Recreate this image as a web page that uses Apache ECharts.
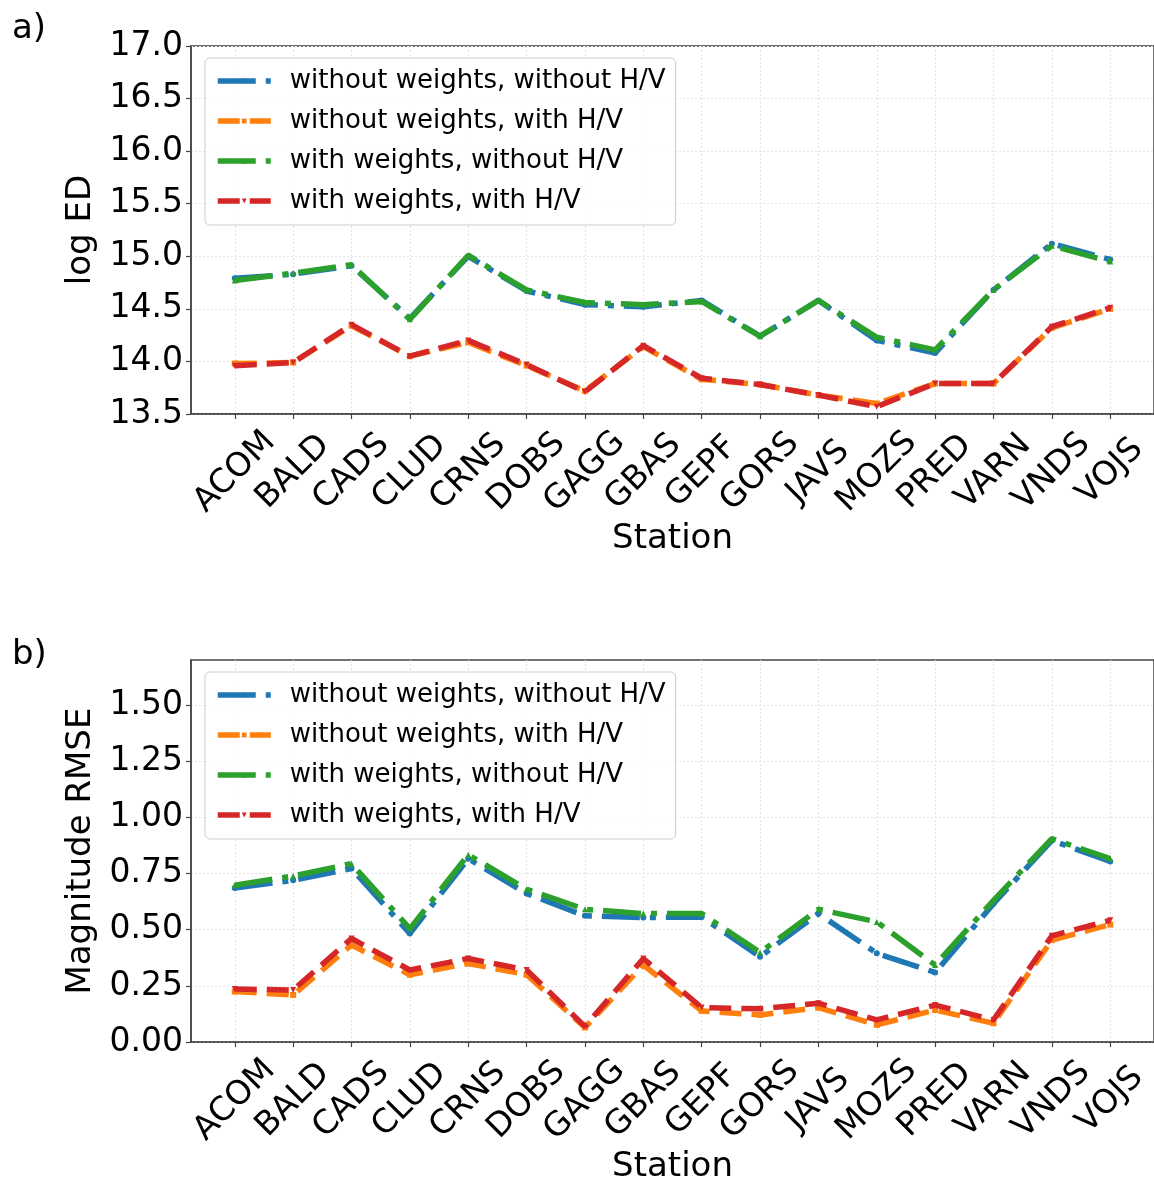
<!DOCTYPE html>
<html><head><meta charset="utf-8">
<script src="https://cdn.jsdelivr.net/npm/echarts@6/dist/echarts.min.js"></script>
<style>html,body{margin:0;padding:0;background:#fff}#c{width:1154px;height:1185px}</style>
</head><body><div id="c"></div>
<script>
const stations = ['ACOM','BALD','CADS','CLUD','CRNS','DOBS','GAGG','GBAS','GEPF','GORS','JAVS','MOZS','PRED','VARN','VNDS','VOJS'];
const seriesNames = ['without weights, without H/V','without weights, with H/V','with weights, without H/V','with weights, with H/V'];

// a) log ED
const edNoWNoHV = [14.79,14.83,14.91,14.41,15.00,14.67,14.54,14.52,14.58,14.24,14.58,14.20,14.08,14.68,15.12,14.97];
const edNoWHV   = [13.98,13.99,14.34,14.05,14.18,13.96,13.72,14.14,13.83,13.78,13.68,13.60,13.79,13.79,14.32,14.50];
const edWNoHV   = [14.77,14.84,14.92,14.40,15.01,14.68,14.56,14.54,14.57,14.24,14.58,14.23,14.11,14.68,15.10,14.95];
const edWHV     = [13.96,13.99,14.35,14.05,14.20,13.97,13.71,14.15,13.84,13.78,13.68,13.57,13.79,13.79,14.33,14.51];

// b) Magnitude RMSE
const rmseNoWNoHV = [0.686,0.720,0.772,0.483,0.816,0.661,0.562,0.554,0.557,0.380,0.572,0.395,0.310,0.616,0.897,0.804];
const rmseNoWHV   = [0.225,0.210,0.432,0.300,0.350,0.300,0.065,0.343,0.139,0.121,0.154,0.077,0.143,0.084,0.454,0.523];
const rmseWNoHV   = [0.698,0.739,0.794,0.505,0.834,0.680,0.591,0.572,0.572,0.399,0.591,0.535,0.343,0.631,0.905,0.816];
const rmseWHV     = [0.236,0.232,0.461,0.321,0.372,0.321,0.070,0.372,0.154,0.148,0.173,0.099,0.165,0.099,0.473,0.542];

const edTicks = [13.5,14.0,14.5,15.0,15.5,16.0,16.5,17.0];
const rmseTicks = [0,0.25,0.5,0.75,1.0,1.25,1.5];

const FONT = 'DejaVu Sans';
const colors = ['#1f77b4','#ff7f0e','#2ca02c','#d62728'];
const dashDot = [38,10,6,10];
const dashed = [22,10];
const styles = [
  {type: dashDot, symbol:'circle', rot:0},
  {type: dashed, symbol:'rect', rot:0},
  {type: dashDot, symbol:'triangle', rot:0},
  {type: dashed, symbol:'triangle', rot:180}
];
const idx = stations.map((s,i)=>i);

function xAxis(gridIndex){
  return {
    type:'value', gridIndex, min:-0.75, max:15.75,
    axisLine:{show:true, onZero:false, lineStyle:{color:'#444', width:1.5}},
    axisTick:{show:true, length:5, lineStyle:{color:'#444', width:1.2}, customValues: idx},
    axisLabel:{customValues: idx, formatter:v=>stations[Math.round(v)], rotate:45, align:'center', verticalAlign:'middle',
      margin:58, fontSize:33, fontFamily:FONT, color:'#000'},
    splitLine:{show:true, lineStyle:{color:'#e3e3e3', type:[2,2], width:1}},
    name:'Station', nameLocation:'middle', nameGap:107,
    nameTextStyle:{fontSize:34, fontFamily:FONT, color:'#000'}
  };
}
function yAxis(gridIndex, min, max, interval, ticks, dec, name){
  return {
    type:'value', gridIndex, min, max, interval,
    axisLine:{show:true, onZero:false, lineStyle:{color:'#444', width:1.5}},
    axisTick:{show:true, length:5, lineStyle:{color:'#444', width:1.2}, customValues: ticks},
    axisLabel:{customValues: ticks, formatter:v=>v.toFixed(dec), margin:8, fontSize:33, fontFamily:FONT, color:'#000'},
    splitLine:{show:true, lineStyle:{color:'#e3e3e3', type:[2,2], width:1}},
    name, nameLocation:'middle', nameGap:84,
    nameTextStyle:{fontSize:34, fontFamily:FONT, color:'#000'}
  };
}
function legend(top){
  return {
    orient:'vertical', left:205, top, padding:[8,10,9,10],
    itemWidth:53, itemHeight:6, itemGap:10,
    backgroundColor:'rgba(255,255,255,0.8)', borderColor:'#cccccc', borderWidth:1, borderRadius:5,
    selectedMode:false,
    textStyle:{fontSize:26, fontFamily:FONT, color:'#000', lineHeight:30, padding:[0,0,0,14]},
    data: seriesNames.map((n,k)=>({
      name:n,
      lineStyle:{width:5.5, type:styles[k].type, color:colors[k], cap:'butt'},
      itemStyle:{color:colors[k]}
    }))
  };
}
function mkSeries(gridIdx, arrays){
  return arrays.map((arr,k)=>({
    name: seriesNames[k], type:'line', xAxisIndex:gridIdx, yAxisIndex:gridIdx,
    data: arr.map((v,i)=>[i,v]),
    color: colors[k],
    lineStyle:{width:5.5, type:styles[k].type, color:colors[k]},
    symbol: styles[k].symbol, symbolRotate: styles[k].rot, symbolSize:6, showSymbol:true,
    itemStyle:{color:colors[k]},
    animation:false, z: 2+k
  }));
}

const chart = echarts.init(document.getElementById('c'), null, {renderer:'canvas'});
chart.setOption({
  animation:false,
  backgroundColor:'#fff',
  grid:[
    {left:191, top:46, width:965, height:368, show:true, borderColor:'#444', borderWidth:1.5, backgroundColor:'transparent'},
    {left:191, top:660, width:965, height:384, show:true, borderColor:'#444', borderWidth:1.5, backgroundColor:'transparent'}
  ],
  xAxis:[xAxis(0), xAxis(1)],
  yAxis:[
    yAxis(0, 13.5, 17.0, 0.5, edTicks, 1, 'log ED'),
    yAxis(1, 0, 1.7, 0.25, rmseTicks, 2, 'Magnitude RMSE')
  ],
  legend:[legend(58), legend(672)],
  graphic:[
    {type:'text', left:12, top:12, style:{text:'a)', fontSize:34, fontFamily:FONT, fill:'#000'}},
    {type:'text', left:12, top:638, style:{text:'b)', fontSize:34, fontFamily:FONT, fill:'#000'}}
  ],
  series:[
    ...mkSeries(0,[edNoWNoHV, edNoWHV, edWNoHV, edWHV]),
    ...mkSeries(1,[rmseNoWNoHV, rmseNoWHV, rmseWNoHV, rmseWHV])
  ]
});
</script>
</body></html>
